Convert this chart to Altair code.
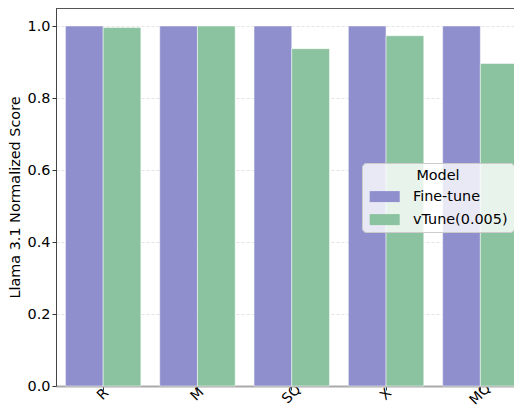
import altair as alt
import pandas as pd

categories = ["R", "M", "SQ", "X", "MQ"]
models = ["Fine-tune", "vTune(0.005)"]
fine_tune = [1.0, 1.0, 1.0, 1.0, 1.0]
vtune = [0.996, 1.0, 0.937, 0.973, 0.896]
colors = ["#8f8fce", "#8bc29f"]

rows = []
for c, a, b in zip(categories, fine_tune, vtune):
    rows.append({"task": c, "Model": models[0], "score": a})
    rows.append({"task": c, "Model": models[1], "score": b})
df = pd.DataFrame(rows)

W = 458
H = 378
FONT = "DejaVu Sans"
FS = 14.4

bars = alt.Chart(df).mark_bar(stroke="white", strokeWidth=0.5).encode(
    x=alt.X("task:N", sort=categories, title=None,
            scale=alt.Scale(range=[0, 471.5], paddingInner=0.2, paddingOuter=0.1),
            axis=alt.Axis(labelAngle=-45, labelAlign="center", labelBaseline="middle",
                          labelFontSize=14, labelColor="black", labelPadding=4,
                          tickSize=4, tickColor="#333", domainColor="#aaaaaa",
                          domainWidth=2, grid=False, labelFont=FONT)),
    xOffset=alt.XOffset("Model:N", sort=models),
    y=alt.Y("score:Q", title="Llama 3.1 Normalized Score",
            scale=alt.Scale(domain=[0, 1.05], nice=False),
            axis=alt.Axis(values=[0, 0.2, 0.4, 0.6, 0.8, 1.0], format=".1f",
                          labelFontSize=FS, labelColor="black", labelFont=FONT,
                          titleFontSize=FS, titleFontWeight="normal", titleColor="black",
                          titleFont=FONT, titlePadding=5,
                          tickSize=4, tickColor="#333", domainColor="#444", domainWidth=1,
                          grid=True, gridColor="#dddddd", gridDash=[3, 2], gridWidth=0.8)),
    color=alt.Color("Model:N", sort=models,
                    scale=alt.Scale(domain=models, range=colors),
                    legend=alt.Legend(orient="none", legendX=306, legendY=155,
                                      title="Model", titleAnchor="middle",
                                      titleFontSize=FS, titleFontWeight="normal",
                                      titleColor="black", titleFont=FONT,
                                      labelFontSize=FS, labelColor="black", labelFont=FONT,
                                      symbolType="M-2.727,-1L2.727,-1L2.727,1L-2.727,1Z",
                                      symbolSize=121, symbolStrokeWidth=0,
                                      symbolOffset=9.5, labelOffset=21,
                                      fillColor="rgba(255,255,255,0.8)",
                                      strokeColor="#cccccc", cornerRadius=4,
                                      padding=6, rowPadding=8, titlePadding=6)),
)

top = alt.Chart(df).mark_rule(color="#555555", strokeWidth=1).encode(
    x=alt.value(0), x2=alt.value(W), y=alt.value(0)
)

chart = alt.layer(bars, top).properties(
    width=W, height=H,
    autosize=alt.AutoSizeParams(type="none"),
    padding={"left": 48, "top": 0, "right": 0, "bottom": 20},
).configure_view(strokeWidth=0)

chart.save("out.html", embed_options={"renderer": "svg", "actions": False})
